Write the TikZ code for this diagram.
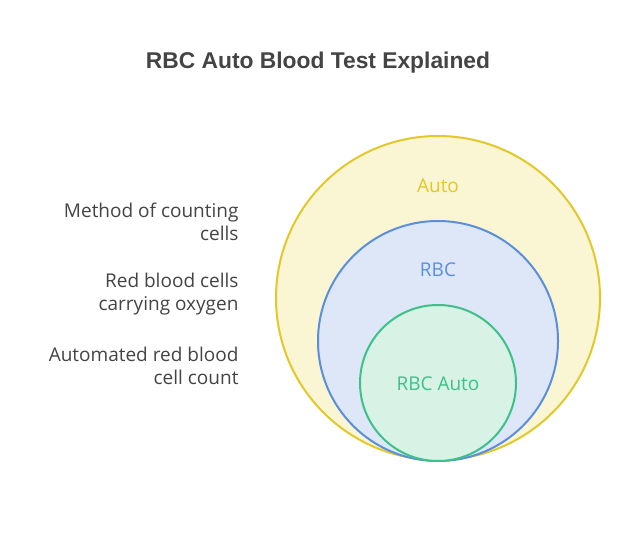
\documentclass[tikz,border=0pt]{standalone}
\usepackage{fontspec}
\setmainfont{Open Sans}
\newfontfamily\titlefont{Liberation Sans}
\definecolor{autoline}{HTML}{E2C82A}
\definecolor{autofill}{HTML}{FAF5D2}
\definecolor{rbcline}{HTML}{5B8EDB}
\definecolor{rbcfill}{HTML}{DDE7F8}
\definecolor{bothline}{HTML}{3EC08A}
\definecolor{bothfill}{HTML}{D8F2E5}
\definecolor{txt}{HTML}{444444}
\begin{document}
\begin{tikzpicture}[x=1pt,y=-1pt,
  side/.style={anchor=east,align=right,text=txt,font=\fontsize{19}{23}\selectfont}]
  \useasboundingbox (0,0) rectangle (636,534);

  \draw[autoline, fill=autofill, line width=2pt] (438,298) circle (162);
  \draw[rbcline, fill=rbcfill, line width=2pt] (438,341) circle (120);
  \draw[bothline, fill=bothfill, line width=2pt] (438,383) circle (78);

  \node[text=txt, font=\titlefont\bfseries\fontsize{22.8}{26}\selectfont] (title) at (318,63) {RBC Auto Blood Test Explained};

  \node[text=autoline, font=\fontsize{19}{22}\selectfont] (auto) at (438,186) {Auto};
  \node[text=rbcline, font=\fontsize{19}{22}\selectfont] (rbc) at (438,270) {RBC};
  \node[text=bothline, font=\fontsize{19}{22}\selectfont] (both) at (438,384) {RBC Auto};

  \node[side] (method) at (242,222) {Method of counting\\cells};
  \node[side] (red) at (242,294) {Red blood cells\\carrying oxygen};
  \node[side] (count) at (242,366) {Automated red blood\\cell count};
\end{tikzpicture}
\end{document}
